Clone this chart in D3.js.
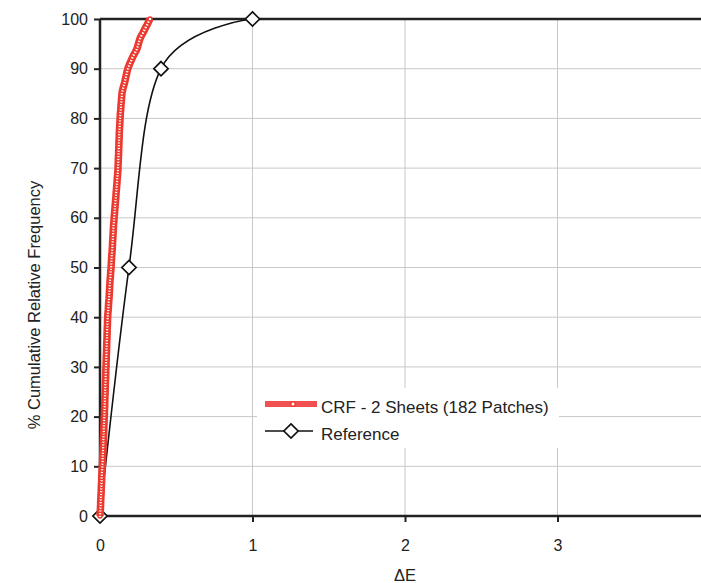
<!DOCTYPE html>
<html>
<head>
<meta charset="utf-8">
<script src="https://cdn.jsdelivr.net/npm/d3@7"></script>
<style>
  body { margin: 0; background: #fff; }
  text { font-family: "Liberation Sans", Arial, sans-serif; fill: #222; }
  .grid line { stroke: #c8c8c8; stroke-width: 1; }
</style>
</head>
<body>
<div id="vis-svg"></div>
<script>
var width = 701;
var height = 583;

// sorted delta E values of the 182 patches
var crfDeltaE = [
  0.000, 0.001, 0.002, 0.003, 0.004, 0.004, 0.005, 0.006, 0.007, 0.008,
  0.008, 0.009, 0.010, 0.011, 0.011, 0.012, 0.013, 0.014, 0.015,
  0.016, 0.017, 0.017, 0.018, 0.019, 0.020, 0.020, 0.021, 0.022, 0.022,
  0.023, 0.024, 0.025, 0.025, 0.026, 0.027, 0.027, 0.028,
  0.029, 0.029, 0.030, 0.031, 0.031, 0.032, 0.032, 0.033, 0.034, 0.034,
  0.035, 0.035, 0.036, 0.037, 0.037, 0.038, 0.038, 0.039,
  0.040, 0.040, 0.041, 0.041, 0.042, 0.043, 0.043, 0.044, 0.044, 0.045,
  0.046, 0.046, 0.047, 0.047, 0.048, 0.049, 0.049, 0.050,
  0.051, 0.052, 0.054, 0.055, 0.056, 0.057, 0.059, 0.060, 0.061, 0.062,
  0.063, 0.064, 0.065, 0.066, 0.068, 0.069, 0.070, 0.072,
  0.073, 0.074, 0.075, 0.076, 0.077, 0.079, 0.080, 0.081, 0.082, 0.083,
  0.084, 0.085, 0.086, 0.087, 0.088, 0.089, 0.091, 0.092,
  0.093, 0.095, 0.096, 0.098, 0.099, 0.101, 0.102, 0.104, 0.105, 0.106,
  0.108, 0.109, 0.111, 0.112, 0.113, 0.115, 0.116, 0.118,
  0.118, 0.119, 0.120, 0.120, 0.121, 0.122, 0.122, 0.123, 0.124, 0.124,
  0.125, 0.126, 0.126, 0.127, 0.128, 0.129, 0.130, 0.131,
  0.132, 0.133, 0.134, 0.136, 0.137, 0.138, 0.140, 0.141, 0.143, 0.144,
  0.148, 0.152, 0.157, 0.162, 0.166, 0.170, 0.174, 0.178,
  0.183, 0.190, 0.197, 0.205, 0.213, 0.222, 0.232, 0.241, 0.247, 0.252,
  0.257, 0.263, 0.272, 0.282, 0.291, 0.300, 0.310, 0.318, 0.328
];

var refDeltaE = [0, 0.19, 0.4, 1];
var refPercent = [0, 50, 90, 100];

var xTicks = [0, 1, 2, 3];
var yTicks = [0, 10, 20, 30, 40, 50, 60, 70, 80, 90, 100];

var seriesNames = ["CRF - 2 Sheets (182 Patches)", "Reference"];

var redColor = "#ec3a30";

var svg = d3
  .select("#vis-svg")
  .append("svg")
  .attr("width", width)
  .attr("height", height);

var x = d3.scaleLinear().domain([0, 4]).range([100, 710]);
var y = d3.scaleLinear().domain([0, 100]).range([516, 19]);

drawChart();

function drawChart() {
  var n = crfDeltaE.length;
  var crfData = crfDeltaE.map(function(d, i) {
    return { x: d, y: (i / (n - 1)) * 100 };
  });
  var refData = refDeltaE.map(function(d, i) {
    return { x: d, y: refPercent[i] };
  });

  // grid
  var grid = svg.append("g").attr("class", "grid");
  grid
    .selectAll("line.h")
    .data(yTicks.filter(function(d) { return d > 0 && d < 100; }))
    .enter()
    .append("line")
    .attr("x1", x(0))
    .attr("x2", width)
    .attr("y1", function(d) { return y(d); })
    .attr("y2", function(d) { return y(d); });

  grid
    .selectAll("line.v")
    .data(xTicks.filter(function(d) { return d > 0; }))
    .enter()
    .append("line")
    .attr("x1", function(d) { return x(d); })
    .attr("x2", function(d) { return x(d); })
    .attr("y1", y(100))
    .attr("y2", y(0));

  // top frame line
  svg
    .append("line")
    .attr("x1", x(0))
    .attr("x2", width)
    .attr("y1", y(100))
    .attr("y2", y(100))
    .attr("stroke", "#222")
    .attr("stroke-width", 2.5);

  // axes
  var xAxis = svg
    .append("g")
    .attr("transform", "translate(0," + y(0) + ")")
    .call(d3.axisBottom(x).tickValues(xTicks).tickFormat(d3.format("d")).tickSize(6).tickPadding(18));

  var yAxis = svg
    .append("g")
    .attr("transform", "translate(" + x(0) + ",0)")
    .call(d3.axisLeft(y).tickValues(yTicks).tickSize(6).tickPadding(6));

  [xAxis, yAxis].forEach(function(ax) {
    ax.select(".domain").attr("stroke", "#222").attr("stroke-width", 2.5);
    ax.selectAll(".tick line").attr("stroke", "#222").attr("stroke-width", 2);
    ax.selectAll(".tick text").style("font-size", "16px").attr("fill", "#222");
  });
  xAxis.select(".domain").attr("d", "M" + x(0) + ",0H" + width);
  yAxis.select(".domain").attr("d", "M0," + y(0) + "V" + y(100));

  // axis titles
  svg
    .append("text")
    .attr("x", 405)
    .attr("y", 581)
    .attr("text-anchor", "middle")
    .style("font-size", "16.5px")
    .text("ΔE");

  svg
    .append("text")
    .attr("transform", "translate(40,305) rotate(-90)")
    .attr("text-anchor", "middle")
    .style("font-size", "16.5px")
    .text("% Cumulative Relative Frequency");

  // reference series
  var refLine = d3
    .line()
    .x(function(d) { return x(d.x); })
    .y(function(d) { return y(d.y); })
    .curve(d3.curveCardinal.tension(0));

  svg
    .append("path")
    .datum(refData)
    .attr("d", refLine)
    .attr("fill", "none")
    .attr("stroke", "#111")
    .attr("stroke-width", 1.6);

  var diamond = d3.symbol().type(d3.symbolDiamond2).size(130);

  svg
    .selectAll("path.ref")
    .data(refData)
    .enter()
    .append("path")
    .attr("class", "ref")
    .attr("d", diamond)
    .attr("transform", function(d) { return "translate(" + x(d.x) + "," + y(d.y) + ")"; })
    .attr("fill", "#fff")
    .attr("stroke", "#111")
    .attr("stroke-width", 1.7);

  // CRF series
  var crfLine = d3
    .line()
    .x(function(d) { return x(d.x); })
    .y(function(d) { return y(d.y); });

  svg
    .append("path")
    .datum(crfData)
    .attr("d", crfLine)
    .attr("fill", "none")
    .attr("stroke", redColor)
    .attr("stroke-width", 7.5)
    .attr("stroke-linejoin", "round");

  svg
    .selectAll("circle.crf")
    .data(crfData)
    .enter()
    .append("circle")
    .attr("class", "crf")
    .attr("cx", function(d) { return x(d.x); })
    .attr("cy", function(d) { return y(d.y); })
    .attr("r", 2)
    .attr("fill", "#fff")
    .attr("stroke", redColor)
    .attr("stroke-width", 1.5);

  // legend
  var legend = svg.append("g").attr("class", "legend");
  legend
    .append("rect")
    .attr("x", 257)
    .attr("y", 388)
    .attr("width", 302)
    .attr("height", 60)
    .attr("fill", "#fff");

  legend
    .append("line")
    .attr("x1", 265)
    .attr("x2", 317)
    .attr("y1", 404)
    .attr("y2", 404)
    .attr("stroke", "#f05050")
    .attr("stroke-width", 6);
  legend
    .append("circle")
    .attr("cx", 293)
    .attr("cy", 404)
    .attr("r", 2.2)
    .attr("fill", "#fff")
    .attr("stroke", redColor)
    .attr("stroke-width", 1.3);

  legend
    .append("line")
    .attr("x1", 265)
    .attr("x2", 313)
    .attr("y1", 431)
    .attr("y2", 431)
    .attr("stroke", "#111")
    .attr("stroke-width", 1.6);
  legend
    .append("path")
    .attr("d", diamond)
    .attr("transform", "translate(291,431)")
    .attr("fill", "#fff")
    .attr("stroke", "#111")
    .attr("stroke-width", 1.7);

  legend
    .selectAll("text")
    .data(seriesNames)
    .enter()
    .append("text")
    .attr("x", 321)
    .attr("y", function(d, i) { return 407 + i * 27; })
    .attr("dy", "0.35em")
    .style("font-size", "17px")
    .text(function(d) { return d; });
}
</script>
</body>
</html>
